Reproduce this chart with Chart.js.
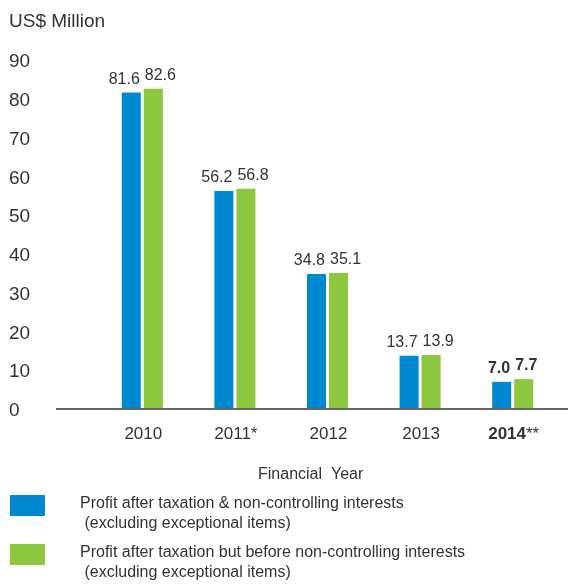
<!DOCTYPE html>
<html>
<head>
<meta charset="utf-8">
<script src="https://cdn.jsdelivr.net/npm/chart.js@4"></script>
<style>
html,body{margin:0;padding:0;background:#fff;}
#wrap{position:relative;width:568px;height:588px;}
</style>
</head>
<body>
<div id="wrap"><canvas id="c" width="568" height="588"></canvas></div>
<script>
const categories = ["2010", "2011", "2012", "2013", "2014"];
const categorySuffix = ["", "*", "", "", "**"];
const boldCategory = [false, false, false, false, true];
const profitAfterTaxNCI = [81.6, 56.2, 34.8, 13.7, 7.0];
const profitBeforeNCI = [82.6, 56.8, 35.1, 13.9, 7.7];
const yTicks = [0, 10, 20, 30, 40, 50, 60, 70, 80, 90];
const seriesNames = [
  ["Profit after taxation & non-controlling interests", " (excluding exceptional items)"],
  ["Profit after taxation but before non-controlling interests", " (excluding exceptional items)"]
];
const yAxisTitle = "US$ Million";
const xAxisTitle = "Financial  Year";

const BLUE = "#0089d0";
const GREEN = "#8dc63f";
const TEXT = "#333333";
const FONT = "'Liberation Sans', Arial, sans-serif";

const drawPlugin = {
  id: "custom",
  afterDatasetsDraw(chart) {
    const ctx = chart.ctx;
    const x = chart.scales.x, y = chart.scales.y;
    ctx.save();
    // baseline
    const y0 = y.getPixelForValue(0);
    ctx.strokeStyle = "#666666";
    ctx.lineWidth = 2;
    ctx.beginPath();
    ctx.moveTo(56, y0);
    ctx.lineTo(568, y0);
    ctx.stroke();

    ctx.fillStyle = TEXT;
    // y tick labels
    ctx.font = "19px " + FONT;
    ctx.textAlign = "left";
    ctx.textBaseline = "middle";
    yTicks.forEach(v => {
      ctx.fillText(String(v), 9, y.getPixelForValue(v) + 2);
    });
    // y title
    ctx.fillText(yAxisTitle, 9, 22);

    // data labels
    chart.data.datasets.forEach((ds, di) => {
      const meta = chart.getDatasetMeta(di);
      meta.data.forEach((bar, i) => {
        ctx.font = (boldCategory[i] ? "bold " : "") + "16px " + FONT;
        ctx.textBaseline = "alphabetic";
        const half = bar.width / 2;
        if (di === 0) {
          ctx.textAlign = "right";
          ctx.fillText(ds.data[i].toFixed(1), bar.x + half - 1, bar.y - 9);
        } else {
          ctx.textAlign = "left";
          ctx.fillText(ds.data[i].toFixed(1), bar.x - half + 1, bar.y - 13 + (di===1?4:0));
        }
      });
    });

    // x labels
    ctx.textBaseline = "middle";
    categories.forEach((c, i) => {
      const cx = x.getPixelForValue(i);
      const mainFont = (boldCategory[i] ? "bold " : "") + "17px " + FONT;
      const sufFont = "17px " + FONT;
      ctx.font = mainFont;
      const w1 = ctx.measureText(c).width;
      ctx.font = sufFont;
      const w2 = ctx.measureText(categorySuffix[i]).width;
      const start = cx - (w1 + w2) / 2 + 1;
      ctx.textAlign = "left";
      ctx.font = mainFont;
      ctx.fillText(c, start, 434);
      ctx.font = sufFont;
      ctx.fillText(categorySuffix[i], start + w1, 434);
    });

    // x title
    ctx.font = "16px " + FONT;
    ctx.textAlign = "left";
    ctx.fillText(xAxisTitle, 258, 475);

    // legend
    const colors = [BLUE, GREEN];
    const tops = [495, 544];
    seriesNames.forEach((lines, i) => {
      ctx.fillStyle = colors[i];
      ctx.fillRect(10, tops[i], 35, 21);
      ctx.fillStyle = TEXT;
      ctx.font = "16px " + FONT;
      ctx.fillText(lines[0], 80, tops[i] + 9);
      ctx.fillText(lines[1], 80, tops[i] + 29);
    });
    ctx.restore();
  }
};

new Chart(document.getElementById("c"), {
  type: "bar",
  data: {
    labels: categories,
    datasets: [
      { label: seriesNames[0].join(""), data: profitAfterTaxNCI, backgroundColor: BLUE,
        categoryPercentage: 0.4757, barPercentage: 0.8636 },
      { label: seriesNames[1].join(""), data: profitBeforeNCI, backgroundColor: GREEN,
        categoryPercentage: 0.4757, barPercentage: 0.8636 }
    ]
  },
  options: {
    responsive: false,
    animation: false,
    devicePixelRatio: 1,
    layout: { padding: { left: 96, right: 9, top: 60, bottom: 179 } },
    plugins: { legend: { display: false }, tooltip: { enabled: false } },
    scales: {
      x: { display: false, offset: true },
      y: { display: false, min: 0, max: 90 }
    }
  },
  plugins: [drawPlugin]
});
</script>
</body>
</html>
